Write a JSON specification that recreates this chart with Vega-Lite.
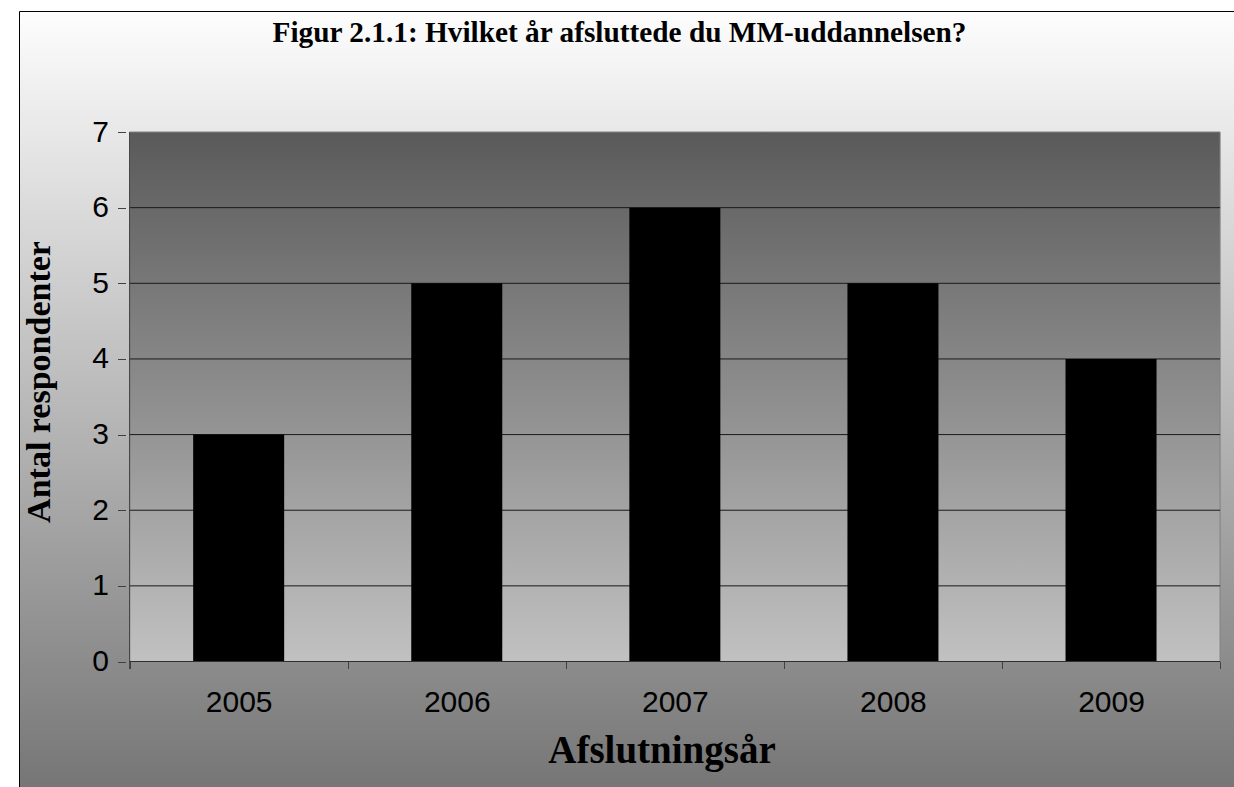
{
  "$schema": "https://vega.github.io/schema/vega-lite/v6.json",
  "width": 1215,
  "height": 776,
  "autosize": {"type": "none"},
  "padding": {"left": 19, "top": 11, "right": 0, "bottom": 0},
  "background": "white",
  "view": {
    "fill": {"gradient": "linear", "x1": 0, "y1": 0, "x2": 0, "y2": 1, "stops": [{"offset": 0, "color": "#fdfdfd"}, {"offset": 1, "color": "#767676"}]},
    "stroke": "black",
    "strokeWidth": 1
  },
  "title": {
    "text": "Figur 2.1.1: Hvilket år afsluttede du MM-uddannelsen?",
    "font": "Liberation Serif",
    "fontSize": 29.3,
    "fontWeight": "bold",
    "color": "black",
    "anchor": "middle",
    "frame": "group",
    "orient": "top",
    "baseline": "alphabetic",
    "offset": -60,
    "dx": -7
  },
  "config": {
    "axis": {
      "labelFont": "Liberation Sans",
      "labelFontSize": 30,
      "labelColor": "black",
      "titleFont": "Liberation Serif",
      "titleFontWeight": "bold",
      "titleColor": "black",
      "grid": false,
      "domain": false,
      "zindex": 1
    }
  },
  "datasets": {
    "responses": [
      {"year": 2005, "count": 3},
      {"year": 2006, "count": 5},
      {"year": 2007, "count": 6},
      {"year": 2008, "count": 5},
      {"year": 2009, "count": 4}
    ],
    "grid": [
      {"level": 1}, {"level": 2}, {"level": 3}, {"level": 4}, {"level": 5}, {"level": 6}
    ]
  },
  "layer": [
    {
      "data": {"values": [{}]},
      "mark": {
        "type": "rect",
        "fill": {"gradient": "linear", "x1": 0, "y1": 0, "x2": 0, "y2": 1, "stops": [{"offset": 0, "color": "#5a5a5a"}, {"offset": 1, "color": "#c1c1c1"}]},
        "stroke": "#808080",
        "strokeWidth": 1
      },
      "encoding": {
        "x": {
          "datum": 2004.5,
          "type": "quantitative",
          "scale": {"domain": [2004.0157, 2009.5409], "nice": false, "zero": false},
          "axis": {
            "title": "Afslutningsår",
            "titleFontSize": 39,
            "values": [2004.5, 2005, 2005.5, 2006, 2006.5, 2007, 2007.5, 2008, 2008.5, 2009, 2009.5],
            "offset": -125.5,
            "tickSize": 7,
            "tickColor": "#404040",
            "tickOpacity": {"condition": {"test": "datum.value % 1 === 0", "value": 0}, "value": 1},
            "labelExpr": "datum.value % 1 === 0 ? format(datum.value, 'd') : ''",
            "labelPadding": 19,
            "labelFlush": false,
            "labelOverlap": false,
            "labelBound": false,
            "titleX": 642.5,
            "titleY": 100.5,
            "titleBaseline": "alphabetic"
          }
        },
        "x2": {"datum": 2009.5},
        "y": {
          "datum": 0,
          "type": "quantitative",
          "scale": {"domain": [-1.659, 8.6], "nice": false, "zero": false},
          "axis": {
            "title": "Antal respondenter",
            "titleFontSize": 34,
            "values": [0, 1, 2, 3, 4, 5, 6, 7],
            "format": "d",
            "offset": -106.5,
            "tickSize": 8,
            "tickColor": "#404040",
            "labelPadding": 9,
            "titleX": -76.5,
            "titleY": 370.5,
            "titleBaseline": "alphabetic",
            "titleAngle": 270
          }
        },
        "y2": {"datum": 7}
      }
    },
    {
      "data": {"name": "grid"},
      "mark": {"type": "rule", "color": "#1a1a1a", "strokeWidth": 1},
      "encoding": {
        "y": {"field": "level", "type": "quantitative"},
        "x": {"datum": 2004.5, "type": "quantitative"},
        "x2": {"datum": 2009.5}
      }
    },
    {
      "data": {"name": "responses"},
      "mark": {"type": "bar", "color": "black", "size": 91},
      "encoding": {
        "x": {"field": "year", "type": "quantitative"},
        "y": {"field": "count", "type": "quantitative"},
        "y2": {"datum": 0}
      }
    },
    {
      "data": {"values": [{}]},
      "mark": {"type": "rule", "color": "#404040", "strokeWidth": 1},
      "encoding": {
        "x": {"datum": 2004.5, "type": "quantitative"},
        "y": {"datum": -0.1, "type": "quantitative"},
        "y2": {"datum": 7}
      }
    },
    {
      "data": {"values": [{}]},
      "mark": {"type": "rule", "color": "#303030", "strokeWidth": 1},
      "encoding": {
        "x": {"datum": 2004.5, "type": "quantitative"},
        "x2": {"datum": 2009.5},
        "y": {"datum": 0, "type": "quantitative"}
      }
    }
  ]
}
